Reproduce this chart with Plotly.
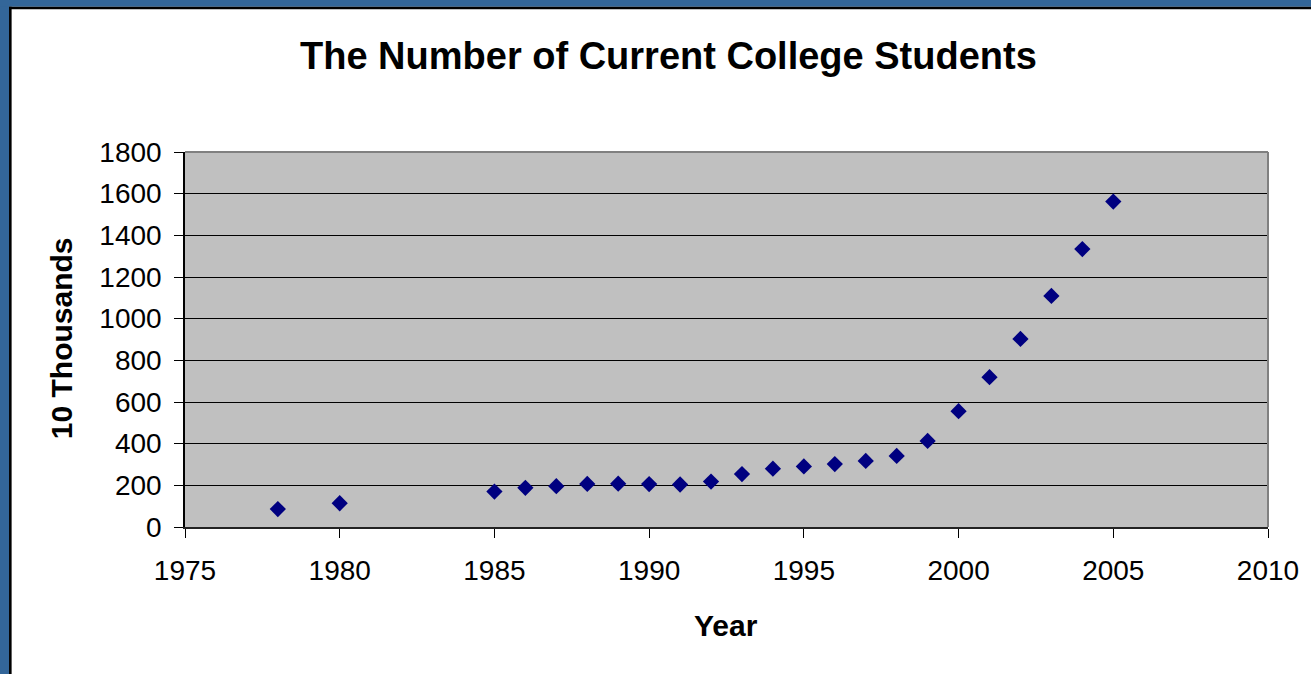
import plotly.graph_objects as go

years = [1978, 1980, 1985, 1986, 1987, 1988, 1989, 1990, 1991, 1992, 1993, 1994,
         1995, 1996, 1997, 1998, 1999, 2000, 2001, 2002, 2003, 2004, 2005]
students = [86, 114, 170, 188, 196, 207, 208, 206, 204, 218, 254, 280,
            291, 302, 317, 341, 413, 556, 719, 903, 1109, 1334, 1562]

title_text = "The Number of Current College Students"
x_title = "Year"
y_title = "10 Thousands"

W, H = 1311, 674
L, R, T, B = 185, 41, 152, 147
PW, PH = W - L - R, H - T - B


def px(xp):
    return (xp - L) / PW


def py(yp):
    return (H - B - yp) / PH


FONT = "Liberation Sans, Arial, sans-serif"

fig = go.Figure()
fig.add_trace(go.Scatter(
    x=years, y=students, mode="markers",
    marker=dict(symbol="diamond", size=12.5, color="#000080", line=dict(width=0)),
    showlegend=False, cliponaxis=False,
))

fig.update_layout(
    width=W, height=H,
    margin=dict(l=L, r=R, t=T, b=B, pad=0),
    paper_bgcolor="white",
    plot_bgcolor="#C0C0C0",
    font=dict(family=FONT, color="black", size=28),
    xaxis=dict(range=[1975, 2010], dtick=5, tick0=1975, showgrid=False, zeroline=False,
               showline=True, linecolor="#222222", linewidth=2,
               ticks="outside", ticklen=9, tickcolor="black", tickwidth=1,
               tickfont=dict(size=28, family=FONT), ticklabelstandoff=8),
    yaxis=dict(range=[0, 1800], dtick=200, tick0=0, showgrid=True, gridcolor="black", gridwidth=1,
               zeroline=False, showline=True, linecolor="black", linewidth=1.5,
               ticks="outside", ticklen=9, tickcolor="black", tickwidth=1,
               tickfont=dict(size=28, family=FONT), ticklabelstandoff=7),
    shapes=[
        # plot area top and right border
        dict(type="line", xref="paper", yref="paper", x0=0, x1=1, y0=1, y1=1,
             line=dict(color="#808080", width=2), layer="above"),
        dict(type="line", xref="paper", yref="paper", x0=1, x1=1, y0=0, y1=1,
             line=dict(color="#808080", width=2), layer="above"),
        # outer blue frame
        dict(type="rect", xref="paper", yref="paper", x0=px(-5), x1=px(8.7), y0=py(H + 5), y1=py(-5),
             fillcolor="#336699", line=dict(width=0), layer="above"),
        dict(type="rect", xref="paper", yref="paper", x0=px(-5), x1=px(W + 5), y0=py(6.7), y1=py(-5),
             fillcolor="#336699", line=dict(width=0), layer="above"),
        # black inner edge
        dict(type="rect", xref="paper", yref="paper", x0=px(8.7), x1=px(11.3), y0=py(H + 5), y1=py(6.7),
             fillcolor="black", line=dict(width=0), layer="above"),
        dict(type="rect", xref="paper", yref="paper", x0=px(8.7), x1=px(W + 5), y0=py(9.3), y1=py(6.7),
             fillcolor="black", line=dict(width=0), layer="above"),
    ],
    annotations=[
        dict(text="<b>%s</b>" % title_text, xref="paper", yref="paper", x=px(669), y=py(56),
             xanchor="center", yanchor="middle", showarrow=False, font=dict(size=38, family=FONT)),
        dict(text="<b>%s</b>" % x_title, xref="paper", yref="paper", x=px(727), y=py(625),
             xanchor="center", yanchor="middle", showarrow=False, font=dict(size=30, family=FONT)),
        dict(text="<b>%s</b>" % y_title, xref="paper", yref="paper", x=px(61), y=py(338),
             xanchor="center", yanchor="middle", showarrow=False, textangle=-90,
             font=dict(size=30, family=FONT)),
    ],
)

fig.write_html(
    "out.html",
    config={"displayModeBar": False},
    post_script="document.body.style.margin='0';document.body.style.overflow='hidden';",
)
